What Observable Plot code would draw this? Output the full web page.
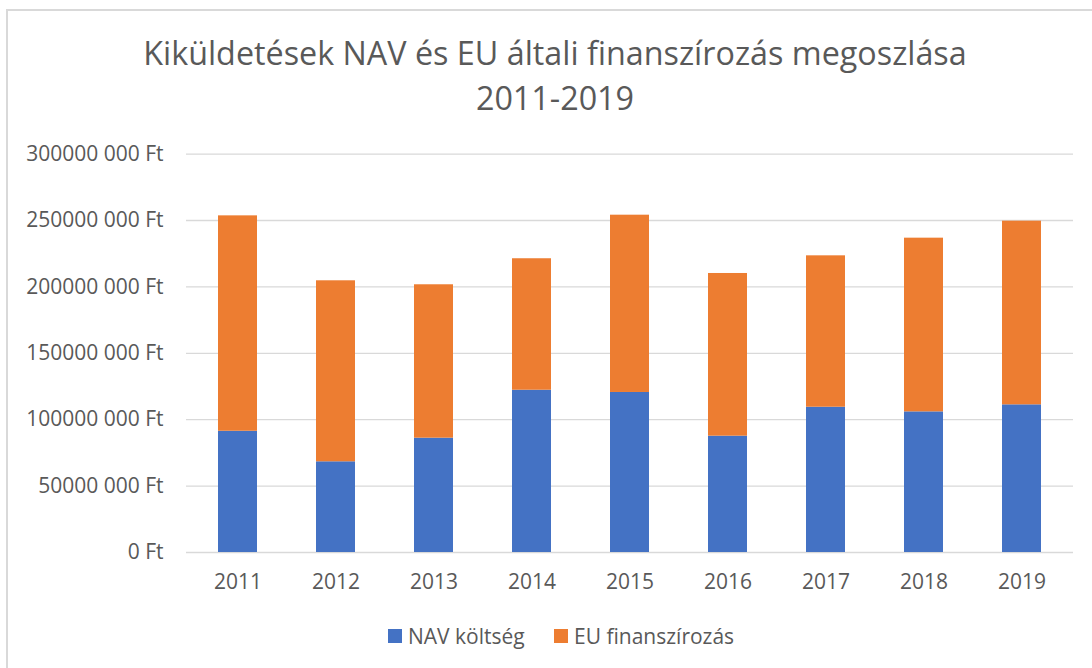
<!DOCTYPE html>
<html>
<head>
<meta charset="utf-8">
<script src="https://cdn.jsdelivr.net/npm/d3@7"></script>
<script src="https://cdn.jsdelivr.net/npm/@observablehq/plot@0.6"></script>
<style>
  html, body { margin: 0; padding: 0; background: #fff; }
  body { width: 1092px; height: 668px; position: relative; overflow: hidden; font-family: "Open Sans", sans-serif; color: #595959; }
  #frame { position: absolute; left: 6px; top: 9px; width: 1200px; height: 800px; border: 2px solid #d9d9d9; box-sizing: border-box; }
  .title { position: absolute; left: 9px; width: 1092px; text-align: center; font-size: 32.3px; line-height: 33px; font-weight: 400; color: #595959; white-space: nowrap; }
  #chart { position: absolute; left: 0; top: 130px; }
  #legend { position: absolute; top: 0; left: 0; width: 1092px; font-size: 21px; color: #595959; }
  .item { position: absolute; top: 621px; height: 30px; display: flex; align-items: center; white-space: nowrap; }
  .sw { width: 14px; height: 14px; display: inline-block; margin-right: 6px; }
</style>
</head>
<body>
<div id="frame"></div>
<div class="title" id="t1" style="top:36px"></div>
<div class="title" id="t2" style="top:81px"></div>
<div id="chart"></div>
<div id="legend"></div>
<script>
const title = ["Kiküldetések NAV és EU általi finanszírozás megoszlása", "2011-2019"];
const years = ["2011", "2012", "2013", "2014", "2015", "2016", "2017", "2018", "2019"];
const navKoltseg = [91.3e6, 68.3e6, 86.1e6, 122.2e6, 120.5e6, 87.6e6, 109.4e6, 105.9e6, 111.2e6];
const euFinanszirozas = [162.2e6, 136.3e6, 115.5e6, 99.0e6, 133.5e6, 122.5e6, 114.0e6, 130.8e6, 138.3e6];
const seriesNames = ["NAV költség", "EU finanszírozás"];
const seriesColors = ["#4472C4", "#ED7D31"];
const yTicks = [0, 50e6, 100e6, 150e6, 200e6, 250e6, 300e6];

document.getElementById("t1").textContent = title[0];
document.getElementById("t2").textContent = title[1];

const rows = [];
years.forEach((y, i) => {
  rows.push({year: y, series: seriesNames[0], value: navKoltseg[i]});
  rows.push({year: y, series: seriesNames[1], value: euFinanszirozas[i]});
});

const fmt = d => d === 0 ? "0 Ft" : `${Math.floor(d / 1000)} ${String(d % 1000).padStart(3, "0")} Ft`;

const chart = Plot.plot({
  width: 1092,
  height: 480,
  marginTop: 23.6,
  marginBottom: 58,
  marginLeft: 186,
  marginRight: 19,
  style: {fontFamily: "Open Sans, sans-serif", fontSize: "21px", color: "#595959", background: "transparent"},
  x: {domain: years, paddingInner: 0.6, paddingOuter: 0.3, label: null},
  y: {domain: [0, 300e6], label: null},
  color: {domain: seriesNames, range: seriesColors},
  marks: [
    Plot.ruleY(yTicks, {stroke: "#d9d9d9", strokeWidth: 1.3}),
    Plot.barY(rows, {x: "year", y: "value", fill: "series", order: seriesNames}),
    Plot.axisX({tickSize: 0, tickPadding: 22, fontSize: 21, fill: "#595959"}),
    Plot.axisY({ticks: yTicks, tickFormat: fmt, tickSize: 0, tickPadding: 23, fontSize: 21, fill: "#595959"})
  ]
});
document.getElementById("chart").appendChild(chart);

const legend = document.getElementById("legend");
const lefts = [388, 554];
seriesNames.forEach((s, i) => {
  const it = document.createElement("div");
  it.className = "item";
  it.style.left = lefts[i] + "px";
  const sw = document.createElement("span");
  sw.className = "sw";
  sw.style.background = seriesColors[i];
  const tx = document.createElement("span");
  tx.textContent = s;
  it.appendChild(sw);
  it.appendChild(tx);
  legend.appendChild(it);
});
</script>
</body>
</html>
